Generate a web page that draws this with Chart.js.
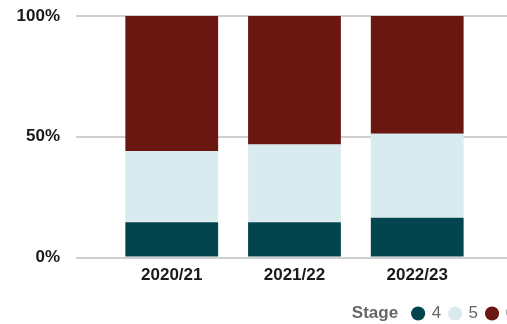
<!DOCTYPE html>
<html>
<head>
<meta charset="utf-8">
<script src="https://cdn.jsdelivr.net/npm/chart.js@4"></script>
<style>
  html, body { margin: 0; padding: 0; overflow: hidden; background: #fff; }
  #wrap { width: 524px; height: 324px; position: relative; }
</style>
</head>
<body>
<div id="wrap"><canvas id="stageChart"></canvas></div>
<script>
// data (share of pupils by stage, %)
var years = ['2020/21', '2021/22', '2022/23'];
var stage4 = [14.6, 14.6, 16.5];
var stage5 = [29.5, 32.2, 34.8];
var stage6 = [55.9, 53.2, 48.7];
var stageNames = ['4', '5', '6'];
var yTicks = [0, 50, 100];

var colours = ['#02454F', '#D9EBEE', '#6B1711'];

Chart.defaults.font.family = "'Liberation Sans', Arial, sans-serif";

function toPoints(arr) {
  return arr.map(function (v, i) { return { x: i, y: v }; });
}

// draws the bold "Stage" word in front of the legend items
var legendTitle = {
  id: 'legendTitle',
  afterDraw: function (chart) {
    var boxes = chart.legend && chart.legend.legendHitBoxes;
    if (!boxes || !boxes.length) return;
    var b = boxes[0];
    var ctx = chart.ctx;
    ctx.save();
    ctx.font = "bold 17px 'Liberation Sans', Arial, sans-serif";
    ctx.fillStyle = '#666666';
    ctx.textAlign = 'right';
    ctx.textBaseline = 'middle';
    ctx.fillText('Stage', b.left - 15, b.top + b.height / 2);
    ctx.restore();
  }
};

var ctx = document.getElementById('stageChart').getContext('2d');

var chart = new Chart(ctx, {
  type: 'bar',
  data: {
    datasets: [
      { label: stageNames[0], data: toPoints(stage4), backgroundColor: colours[0] },
      { label: stageNames[1], data: toPoints(stage5), backgroundColor: colours[1] },
      { label: stageNames[2], data: toPoints(stage6), backgroundColor: colours[2] }
    ]
  },
  options: {
    responsive: true,
    maintainAspectRatio: false,
    animation: false,
    layout: { padding: { top: 16, right: 0, bottom: -8, left: 0 } },
    datasets: {
      bar: { categoryPercentage: 1, barPercentage: 0.756, borderWidth: 0 }
    },
    scales: {
      x: {
        type: 'linear',
        stacked: true,
        offset: false,
        min: -0.78,
        max: 2.87,
        grid: { display: false, offset: false },
        border: { display: false },
        afterFit: function (scale) { scale.height += 10; },
        afterBuildTicks: function (scale) {
          scale.ticks = scale.ticks.filter(function (t) {
            return Number.isInteger(t.value) && t.value >= 0 && t.value < years.length;
          });
        },
        ticks: {
          stepSize: 1,
          maxRotation: 0,
          padding: 0,
          color: '#1a1a1a',
          font: { size: 17, weight: 'bold' },
          callback: function (v) { return years[v]; }
        }
      },
      y: {
        stacked: true,
        min: 0,
        max: 100,
        afterFit: function (scale) { scale.width = 76; },
        afterBuildTicks: function (scale) {
          scale.ticks = yTicks.map(function (v) { return { value: v }; });
        },
        // invisible tick marks keep the labels clear of the grid lines
        grid: { color: '#cfcfcf', lineWidth: 2, drawTicks: true, tickLength: 16, tickColor: 'rgba(0,0,0,0)' },
        border: { display: false },
        ticks: {
          padding: 0,
          color: '#1a1a1a',
          font: { size: 17, weight: 'bold' },
          callback: function (v) { return v + '%'; }
        }
      }
    },
    plugins: {
      tooltip: { enabled: false },
      legend: {
        position: 'bottom',
        align: 'end',
        labels: {
          usePointStyle: true,
          pointStyle: 'circle',
          boxWidth: 10,
          boxHeight: 10,
          padding: 9,
          color: '#666666',
          font: { size: 17 }
        }
      }
    }
  },
  plugins: [legendTitle]
});
</script>
</body>
</html>
